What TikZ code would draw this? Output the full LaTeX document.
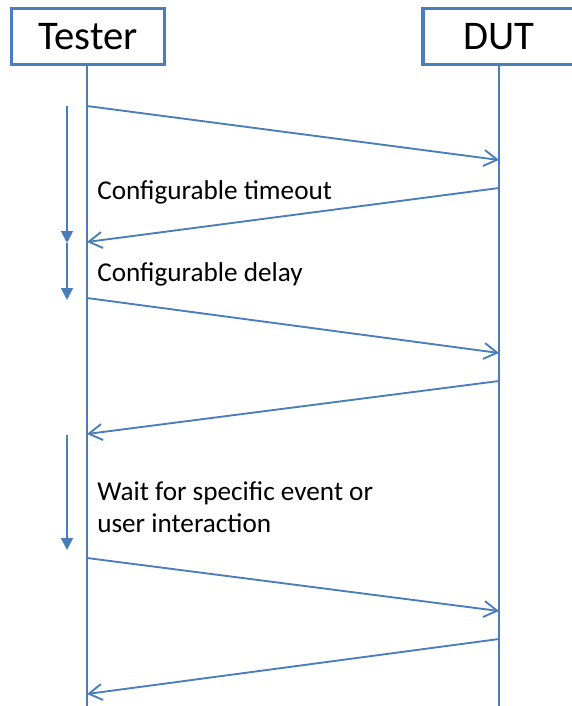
\documentclass[tikz,border=0pt]{standalone}
\usepackage{fontspec}
\setmainfont{Carlito}
\usetikzlibrary{arrows.meta}
\definecolor{lineblue}{RGB}{74,126,187}
\begin{document}
\begin{tikzpicture}[x=0.75pt, y=-0.75pt,
    actor/.style={draw=lineblue, line width=2.4pt, fill=white, minimum height=42pt,
        font=\fontsize{30.5}{36}\selectfont, inner sep=0pt},
    msg/.style={draw=lineblue, line width=1.4pt,
        -{Straight Barb[length=10pt, width=12pt, line width=1.4pt]}},
    wait/.style={draw=lineblue, line width=1.4pt, -{Triangle[length=9pt, width=9pt]}},
    note/.style={anchor=base west, inner sep=0pt, font=\fontsize{20.4}{24}\selectfont}]
\useasboundingbox (0,0) rectangle (571,706);

% lifelines
\draw[lineblue, line width=1.4pt] (87,65) -- (87,706);
\draw[lineblue, line width=1.4pt] (499,65) -- (499,706);

\node[actor, minimum width=115pt] (tester) at (88,36.5) {Tester};
\node[actor, minimum width=114pt] (dut) at (499,36.5) {DUT};

% points on the lifelines
\coordinate (t1) at (87,106);  \coordinate (d1) at (499,160);
\coordinate (d2) at (499,188); \coordinate (t2) at (87,242);
\coordinate (t3) at (87,298);  \coordinate (d3) at (499,353);
\coordinate (d4) at (499,381); \coordinate (t4) at (87,434);
\coordinate (t5) at (87,558);  \coordinate (d5) at (499,611);
\coordinate (d6) at (499,639); \coordinate (t6) at (87,694);

\draw[msg] (t1) -- (d1);
\draw[msg] (d2) -- (t2);
\draw[msg] (t3) -- (d3);
\draw[msg] (d4) -- (t4);
\draw[msg] (t5) -- (d5);
\draw[msg] (d6) -- (t6);

% waiting times
\coordinate (w1) at (67,106);
\coordinate (w2) at (67,243);
\coordinate (w3) at (67,300);
\coordinate (w4) at (67,435);
\coordinate (w5) at (67,550);
\draw[wait] (w1) -- (w2);
\draw[wait] (w2) -- (w3);
\draw[wait] (w4) -- (w5);

\node[note] (timeout) at (97,199) {Configurable timeout};
\node[note] (delay) at (97,281) {Configurable delay};
\node[note] (event) at (97,500) {Wait for specific event or};
\node[note] (user) at (97,532) {user interaction};
\end{tikzpicture}
\end{document}
